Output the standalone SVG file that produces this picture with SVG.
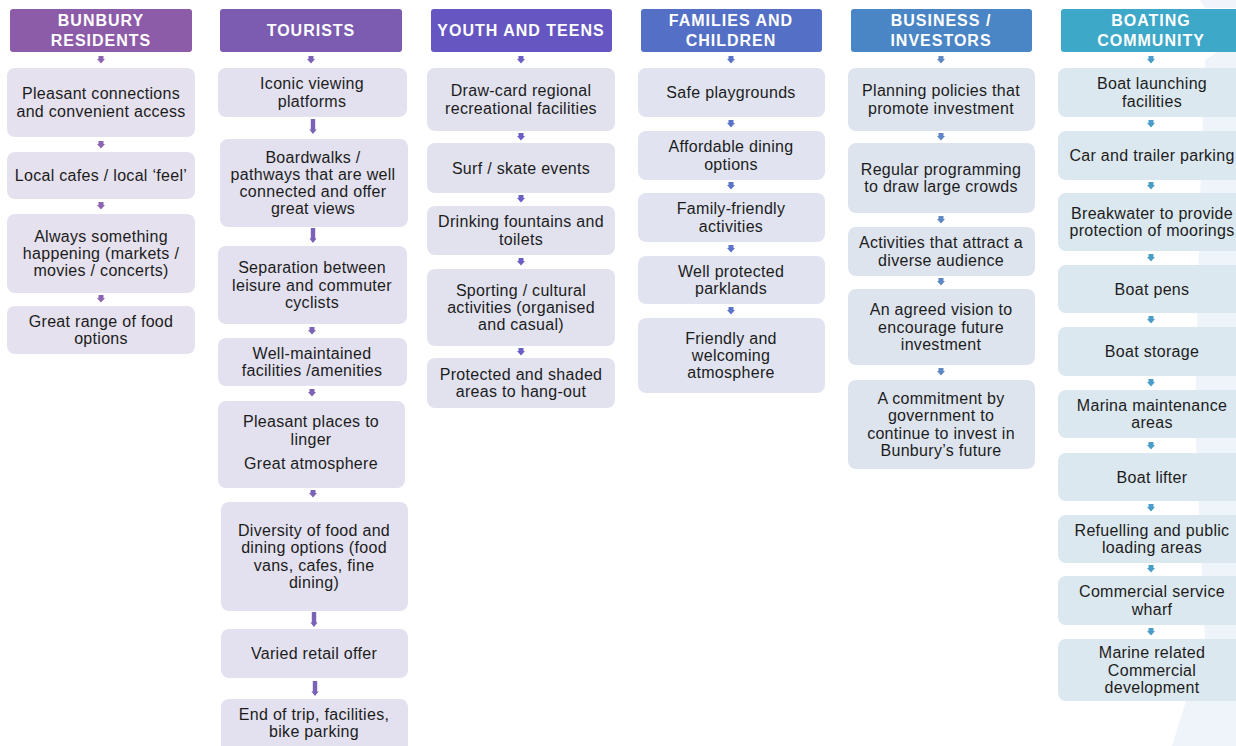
<svg xmlns="http://www.w3.org/2000/svg" xmlns:xlink="http://www.w3.org/1999/xlink" width="1236" height="746" viewBox="0 0 1236 746">
<style>
.hd{font-family:"Liberation Sans",Arial,sans-serif;font-weight:bold;font-size:16px;fill:#fff;text-anchor:middle;letter-spacing:1px}
.tx{font-family:"Liberation Sans",Arial,sans-serif;font-size:16px;fill:#1c1c1c;text-anchor:middle;letter-spacing:0.3px}
.b1{fill:#E5E1EE}.b2{fill:#E3E1EF}.b3{fill:#E2E2EF}.b4{fill:#E1E4F0}.b5{fill:#DEE4EE}.b6{fill:#DCE8EF}
</style>
<defs>
<path id="arS" d="M-2.5,-4 h5 v3 h1.5 l-4,4.5 l-4,-4.5 h1.5 z"/>
<path id="arL" d="M-2.2,-8 h4.4 v10.5 h1.4 l-3.6,4.5 l-3.6,-4.5 h1.4 z"/>
</defs>
<rect width="1236" height="746" fill="#fff"/>
<polygon points="1205,60 1236,40 1236,746 1172,746 1205,640 1195,420 1200,200" fill="#EFF3FA"/>
<polygon points="1200,0 1236,0 1236,8 1205,8" fill="#F1F4FA"/>

<g id="col-residents">
<rect x="10" y="9" width="182" height="43" rx="3" fill="#8D5CA9"/>
<text class="hd" x="101" y="26">BUNBURY</text><text class="hd" x="101" y="46">RESIDENTS</text>
<rect class="b1" x="7" y="68" width="188" height="69" rx="8"/>
<text class="tx" x="101" y="99.3">Pleasant connections</text><text class="tx" x="101" y="116.6">and convenient access</text>
<rect class="b1" x="7" y="152" width="188" height="47" rx="8"/>
<text class="tx" x="101" y="181">Local cafes / local ‘feel’</text>
<rect class="b1" x="7" y="214" width="188" height="79" rx="8"/>
<text class="tx" x="101" y="241.7">Always something</text><text class="tx" x="101" y="259">happening (markets /</text><text class="tx" x="101" y="276.3">movies / concerts)</text>
<rect class="b1" x="7" y="306" width="188" height="48" rx="8"/>
<text class="tx" x="101" y="326.8">Great range of food</text><text class="tx" x="101" y="344.1">options</text>
</g>

<g id="col-tourists">
<rect x="220" y="9" width="182" height="43" rx="3" fill="#7B5CB1"/>
<text class="hd" x="311" y="36">TOURISTS</text>
<rect class="b2" x="218" y="68" width="189" height="49" rx="8"/>
<text class="tx" x="312" y="89.3">Iconic viewing</text><text class="tx" x="312" y="106.6">platforms</text>
<rect class="b2" x="220" y="139" width="188" height="88" rx="8"/>
<text class="tx" x="313" y="162.5">Boardwalks /</text><text class="tx" x="313" y="179.8">pathways that are well</text><text class="tx" x="313" y="197.1">connected and offer</text><text class="tx" x="313" y="214.4">great views</text>
<rect class="b2" x="218" y="246" width="189" height="78" rx="8"/>
<text class="tx" x="312" y="273.2">Separation between</text><text class="tx" x="312" y="290.5">leisure and commuter</text><text class="tx" x="312" y="307.8">cyclists</text>
<rect class="b2" x="218" y="338" width="189" height="48" rx="8"/>
<text class="tx" x="312" y="358.8">Well-maintained</text><text class="tx" x="312" y="376.1">facilities /amenities</text>
<rect class="b2" x="218" y="401" width="187" height="87" rx="8"/>
<text class="tx" x="311" y="427">Pleasant places to</text><text class="tx" x="311" y="445">linger</text><text class="tx" x="311" y="469">Great atmosphere</text>
<rect class="b2" x="221" y="502" width="187" height="109" rx="8"/>
<text class="tx" x="314" y="536">Diversity of food and</text><text class="tx" x="314" y="553.3">dining options (food</text><text class="tx" x="314" y="570.6">vans, cafes, fine</text><text class="tx" x="314" y="587.9">dining)</text>
<rect class="b2" x="221" y="629" width="187" height="49" rx="8"/>
<text class="tx" x="314" y="659">Varied retail offer</text>
<rect class="b2" x="221" y="699" width="187" height="60" rx="8"/>
<text class="tx" x="314" y="720">End of trip, facilities,</text><text class="tx" x="314" y="737">bike parking</text>
</g>

<g id="col-youth">
<rect x="431" y="9" width="181" height="43" rx="3" fill="#6556C2"/>
<text class="hd" x="521" y="36">YOUTH AND TEENS</text>
<rect class="b3" x="427" y="68" width="188" height="63" rx="8"/>
<text class="tx" x="521" y="96.3">Draw-card regional</text><text class="tx" x="521" y="113.6">recreational facilities</text>
<rect class="b3" x="427" y="143" width="188" height="50" rx="8"/>
<text class="tx" x="521" y="173.5">Surf / skate events</text>
<rect class="b3" x="427" y="206" width="188" height="49" rx="8"/>
<text class="tx" x="521" y="227.3">Drinking fountains and</text><text class="tx" x="521" y="244.6">toilets</text>
<rect class="b3" x="427" y="269" width="188" height="77" rx="8"/>
<text class="tx" x="521" y="295.7">Sporting / cultural</text><text class="tx" x="521" y="313">activities (organised</text><text class="tx" x="521" y="330.3">and casual)</text>
<rect class="b3" x="427" y="358" width="188" height="50" rx="8"/>
<text class="tx" x="521" y="379.8">Protected and shaded</text><text class="tx" x="521" y="397.1">areas to hang-out</text>
</g>

<g id="col-families">
<rect x="641" y="9" width="181" height="43" rx="3" fill="#5470C6"/>
<text class="hd" x="731" y="26">FAMILIES AND</text><text class="hd" x="731" y="46">CHILDREN</text>
<rect class="b4" x="638" y="68" width="187" height="49" rx="8"/>
<text class="tx" x="731" y="98">Safe playgrounds</text>
<rect class="b4" x="638" y="131" width="187" height="49" rx="8"/>
<text class="tx" x="731" y="152.3">Affordable dining</text><text class="tx" x="731" y="169.6">options</text>
<rect class="b4" x="638" y="193" width="187" height="49" rx="8"/>
<text class="tx" x="731" y="214.3">Family-friendly</text><text class="tx" x="731" y="231.6">activities</text>
<rect class="b4" x="638" y="256" width="187" height="48" rx="8"/>
<text class="tx" x="731" y="276.8">Well protected</text><text class="tx" x="731" y="294.1">parklands</text>
<rect class="b4" x="638" y="318" width="187" height="75" rx="8"/>
<text class="tx" x="731" y="343.7">Friendly and</text><text class="tx" x="731" y="361">welcoming</text><text class="tx" x="731" y="378.3">atmosphere</text>
</g>

<g id="col-business">
<rect x="851" y="9" width="181" height="43" rx="3" fill="#4A86C5"/>
<text class="hd" x="941" y="26">BUSINESS /</text><text class="hd" x="941" y="46">INVESTORS</text>
<rect class="b5" x="848" y="68" width="187" height="63" rx="8"/>
<text class="tx" x="941" y="96.3">Planning policies that</text><text class="tx" x="941" y="113.6">promote investment</text>
<rect class="b5" x="848" y="143" width="187" height="70" rx="8"/>
<text class="tx" x="941" y="174.8">Regular programming</text><text class="tx" x="941" y="192.1">to draw large crowds</text>
<rect class="b5" x="848" y="227" width="187" height="49" rx="8"/>
<text class="tx" x="941" y="248.3">Activities that attract a</text><text class="tx" x="941" y="265.6">diverse audience</text>
<rect class="b5" x="848" y="289" width="187" height="76" rx="8"/>
<text class="tx" x="941" y="315.2">An agreed vision to</text><text class="tx" x="941" y="332.5">encourage future</text><text class="tx" x="941" y="349.8">investment</text>
<rect class="b5" x="848" y="380" width="187" height="89" rx="8"/>
<text class="tx" x="941" y="404">A commitment by</text><text class="tx" x="941" y="421.3">government to</text><text class="tx" x="941" y="438.6">continue to invest in</text><text class="tx" x="941" y="455.9">Bunbury’s future</text>
</g>

<g id="col-boating">
<rect x="1061" y="9" width="190" height="43" rx="3" fill="#3EA8C9"/>
<text class="hd" x="1151" y="26">BOATING</text><text class="hd" x="1151" y="46">COMMUNITY</text>
<rect class="b6" x="1058" y="68" width="195" height="49" rx="8"/>
<text class="tx" x="1152" y="89.3">Boat launching</text><text class="tx" x="1152" y="106.6">facilities</text>
<rect class="b6" x="1058" y="131" width="195" height="49" rx="8"/>
<text class="tx" x="1152" y="161">Car and trailer parking</text>
<rect class="b6" x="1058" y="193" width="195" height="58" rx="8"/>
<text class="tx" x="1152" y="218.8">Breakwater to provide</text><text class="tx" x="1152" y="236.1">protection of moorings</text>
<rect class="b6" x="1058" y="265" width="195" height="48" rx="8"/>
<text class="tx" x="1152" y="294.5">Boat pens</text>
<rect class="b6" x="1058" y="327" width="195" height="49" rx="8"/>
<text class="tx" x="1152" y="357">Boat storage</text>
<rect class="b6" x="1058" y="390" width="195" height="48" rx="8"/>
<text class="tx" x="1152" y="410.8">Marina maintenance</text><text class="tx" x="1152" y="428.1">areas</text>
<rect class="b6" x="1058" y="453" width="195" height="48" rx="8"/>
<text class="tx" x="1152" y="482.5">Boat lifter</text>
<rect class="b6" x="1058" y="515" width="195" height="48" rx="8"/>
<text class="tx" x="1152" y="535.8">Refuelling and public</text><text class="tx" x="1152" y="553.1">loading areas</text>
<rect class="b6" x="1058" y="576" width="195" height="49" rx="8"/>
<text class="tx" x="1152" y="597.3">Commercial service</text><text class="tx" x="1152" y="614.6">wharf</text>
<rect class="b6" x="1058" y="639" width="195" height="62" rx="8"/>
<text class="tx" x="1152" y="658.2">Marine related</text><text class="tx" x="1152" y="675.5">Commercial</text><text class="tx" x="1152" y="692.8">development</text>
</g>

<g id="connectors">
<g fill="#8C64B2">
<use xlink:href="#arS" x="101" y="60"/><use xlink:href="#arS" x="101" y="145"/><use xlink:href="#arS" x="101" y="206"/><use xlink:href="#arS" x="101" y="299"/>
</g>
<g fill="#7A62B6">
<use xlink:href="#arS" x="311" y="60"/><use xlink:href="#arL" x="313" y="127"/><use xlink:href="#arL" x="313" y="236"/><use xlink:href="#arS" x="312" y="331"/><use xlink:href="#arS" x="312" y="393"/><use xlink:href="#arS" x="313" y="494"/><use xlink:href="#arL" x="314" y="620"/><use xlink:href="#arL" x="315" y="689"/>
</g>
<g fill="#6A5FC6">
<use xlink:href="#arS" x="521" y="60"/><use xlink:href="#arS" x="521" y="137"/><use xlink:href="#arS" x="521" y="199"/><use xlink:href="#arS" x="521" y="262"/><use xlink:href="#arS" x="521" y="352"/>
</g>
<g fill="#5C74C8">
<use xlink:href="#arS" x="731" y="60"/><use xlink:href="#arS" x="731" y="124"/><use xlink:href="#arS" x="731" y="186"/><use xlink:href="#arS" x="731" y="249"/><use xlink:href="#arS" x="731" y="311"/>
</g>
<g fill="#5F87C5">
<use xlink:href="#arS" x="941" y="60"/><use xlink:href="#arS" x="941" y="137"/><use xlink:href="#arS" x="941" y="220"/><use xlink:href="#arS" x="941" y="282"/><use xlink:href="#arS" x="941" y="372"/>
</g>
<g fill="#4B9DC9">
<use xlink:href="#arS" x="1151" y="60"/><use xlink:href="#arS" x="1151" y="124"/><use xlink:href="#arS" x="1151" y="186"/><use xlink:href="#arS" x="1151" y="258"/><use xlink:href="#arS" x="1151" y="320"/><use xlink:href="#arS" x="1151" y="383"/><use xlink:href="#arS" x="1151" y="446"/><use xlink:href="#arS" x="1151" y="508"/><use xlink:href="#arS" x="1151" y="569"/><use xlink:href="#arS" x="1151" y="632"/>
</g>
</g>
</svg>
